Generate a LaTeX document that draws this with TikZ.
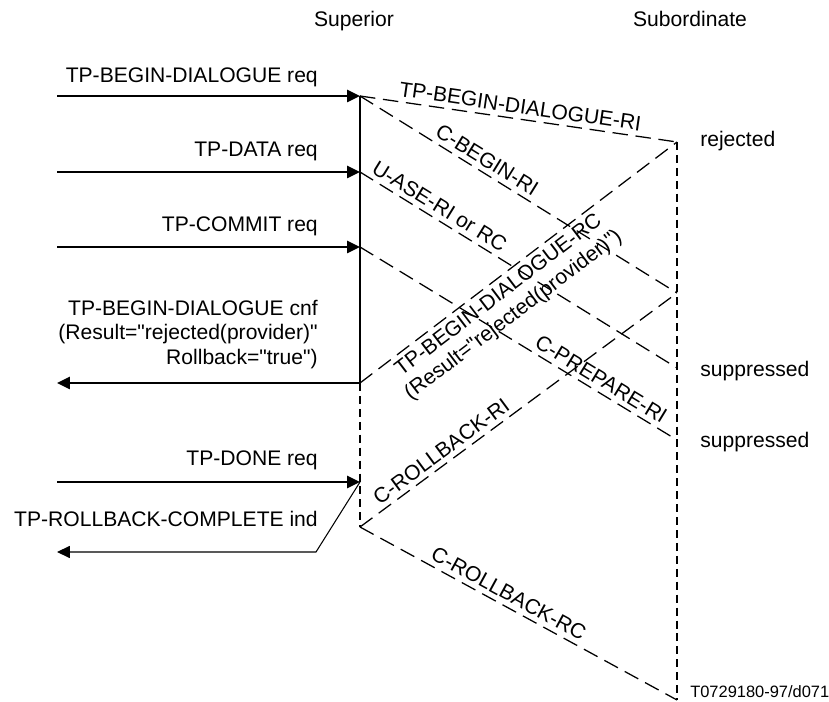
\documentclass[tikz,border=0pt]{standalone}
\usepackage{fontspec}
\setmainfont{Liberation Sans}[Ligatures=TeXOff]
\usetikzlibrary{arrows.meta, positioning}

\begin{document}
\begin{tikzpicture}[
    lbl/.style={font=\fontsize{15}{17.4}\selectfont},
    txt/.style={lbl, inner sep=0pt},
    req/.style={line width=1.4pt, -{Triangle[length=0.32cm, width=0.3cm]}},
    ind/.style={line width=0.75pt, -{Triangle[length=0.32cm, width=0.3cm]}},
    msg/.style={line width=0.9pt, dash pattern=on 11pt off 5.5pt},
    life/.style={line width=1.4pt, dash pattern=on 5.7pt off 3.5pt}
  ]
  \useasboundingbox (0,0) rectangle (20.725,17.55);

  % titles of the two sides
  \node[txt, anchor=base] (sup) at (8.85,16.875) {Superior};
  \node[txt, anchor=base] (sub) at (17.25,16.875) {Subordinate};

  % points on the time lines
  \foreach \n/\y in {s1/15.15, s2/13.25, s3/11.375, s4/7.975, s5/5.5, s6/4.375}
    \coordinate (\n) at (9.0,\y);
  \foreach \n/\y in {b1/14.0, b2/10.225, b3/8.35, b4/6.55, b5/0.05}
    \coordinate (\n) at (16.925,\y);
  \foreach \n/\y in {u1/15.15, u2/13.25, u3/11.375, u4/7.975, u5/5.5, u6/3.75}
    \coordinate (\n) at (1.425,\y);
  \coordinate (kink) at (7.9,3.75);

  % time lines
  \draw[line width=1.4pt] (s1) -- (s4);
  \draw[life] (s4) -- (s6);
  \draw[life] (b1) -- (b5);

  % service primitives
  \foreach \a/\b in {u1/s1, u2/s2, u3/s3, u5/s5}
    \draw[req] (\a) -- (\b);
  \draw[req] (s4) -- (u4);
  \draw[ind] (s5) -- (kink) -- (u6);

  \node[txt, anchor=base east] (l1) at (7.95,15.475) {TP-BEGIN-DIALOGUE req};
  \node[txt, anchor=base east] (l2) at (7.95,13.625) {TP-DATA req};
  \node[txt, anchor=base east] (l3) at (7.95,11.75) {TP-COMMIT req};
  \node[txt, anchor=north east, align=right] (l4) at (7.95,10.05)
        {TP-BEGIN-DIALOGUE cnf\\(Result="rejected(provider)"\\Rollback="true")};
  \node[txt, anchor=base east] (l5) at (7.95,5.9) {TP-DONE req};
  \node[txt, anchor=base east] (l6) at (7.95,4.375) {TP-ROLLBACK-COMPLETE ind};

  % protocol messages
  \draw[msg] (s1) -- node[lbl, sloped, above, pos=0.5] (m1)
        {TP-BEGIN-DIALOGUE-RI} (b1);
  \draw[msg] (s1) -- node[lbl, sloped, above, pos=0.38] (m2) {C-BEGIN-RI} (b2);
  \draw[msg] (s2) -- node[lbl, sloped, above, pos=0.23] (m3) {U-ASE-RI or RC} (b3);
  \draw[msg] (s3) -- node[lbl, sloped, above, pos=0.74] (m4) {C-PREPARE-RI} (b4);
  \draw[msg] (s4) -- node[lbl, sloped, below, pos=0.41, align=center] (m5)
        {TP-BEGIN-DIALOGUE-RC\\(Result="rejected(provider)")} (b1);
  \draw[msg] (s6) -- node[lbl, sloped, above, pos=0.28] (m6) {C-ROLLBACK-RI} (b2);
  \draw[msg] (s6) -- node[lbl, sloped, above, pos=0.45] (m7) {C-ROLLBACK-RC} (b5);

  % subordinate outcome
  \node[txt, anchor=base west] (r1) at (17.5,13.875) {rejected};
  \node[txt, anchor=base west] (r2) at (17.5,8.125) {suppressed};
  \node[txt, anchor=base west] (r3) at (17.5,6.35) {suppressed};
  \node[font=\fontsize{11.7}{14}\selectfont, inner sep=0pt, anchor=base west] (fig)
        at (17.25,0.1) {T0729180-97/d071};
\end{tikzpicture}
\end{document}
